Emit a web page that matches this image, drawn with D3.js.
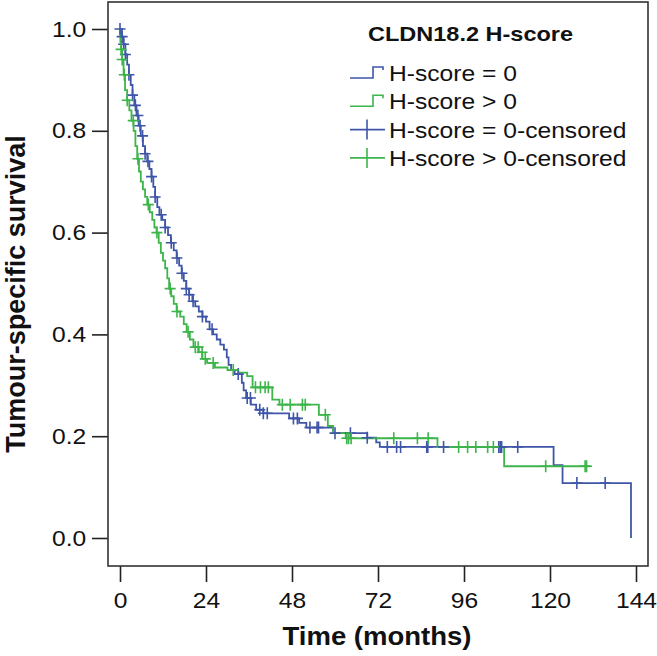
<!DOCTYPE html>
<html>
<head>
<meta charset="utf-8">
<script src="https://cdn.jsdelivr.net/npm/d3@7"></script>
<style>
  body { margin: 0; background: #fff; }
  svg { display: block; font-family: 'Liberation Sans', Arial, sans-serif; }
</style>
</head>
<body>
<figure style="margin:0"></figure>
<script>
/* global d3 */

// Kaplan-Meier steps: [months, survival]
const zeroSteps = [
  [0, 1], [0.5, 0.985], [1, 0.97], [1.5, 0.95], [2, 0.93], [2.5, 0.91], [3, 0.89], [3.5, 0.87],
  [4, 0.85], [4.6, 0.83], [5.2, 0.81], [5.8, 0.79], [6.4, 0.77], [7, 0.755], [7.6, 0.74],
  [8.2, 0.725], [8.8, 0.71], [9.3, 0.69], [9.8, 0.67], [10.4, 0.65], [11, 0.635], [11.8, 0.625],
  [12.6, 0.61], [13.4, 0.595], [14.2, 0.58], [15, 0.565], [15.8, 0.55], [16.5, 0.535],
  [17.2, 0.52], [17.8, 0.505], [18.5, 0.49], [19.3, 0.478], [20.2, 0.465], [21, 0.455],
  [22, 0.445], [23, 0.435], [24, 0.425], [25, 0.41], [26, 0.4], [27, 0.39], [28, 0.38],
  [29, 0.37], [29.8, 0.355], [30.3, 0.34], [31, 0.33], [32, 0.322], [34, 0.305], [34.5, 0.29],
  [35.2, 0.275], [36.5, 0.262], [38, 0.252], [40, 0.245], [47.2, 0.235], [50, 0.226],
  [52, 0.217], [59.5, 0.206], [69, 0.197], [71.5, 0.188], [72.5, 0.179], [121, 0.143],
  [123.5, 0.108], [142.6, 0]
]
const positiveSteps = [
  [0, 1], [0.1, 0.975], [0.3, 0.96], [0.6, 0.94], [1, 0.91], [1.4, 0.88], [2, 0.86], [2.6, 0.84],
  [3.2, 0.82], [3.8, 0.8], [4.3, 0.77], [4.8, 0.745], [5.3, 0.72], [5.8, 0.7], [6.4, 0.685],
  [7, 0.67], [7.6, 0.655], [8.3, 0.64], [9, 0.625], [9.6, 0.61], [10.2, 0.6], [10.8, 0.58],
  [11.4, 0.56], [12, 0.545], [12.6, 0.53], [13.2, 0.51], [13.7, 0.49], [14.3, 0.475], [15, 0.46],
  [15.8, 0.445], [16.8, 0.435], [17.8, 0.42], [18.6, 0.405], [19.5, 0.39], [20.5, 0.375],
  [22, 0.365], [23, 0.352], [24.3, 0.344], [26.5, 0.335], [30, 0.33], [33, 0.325],
  [35.5, 0.318], [37, 0.296], [42.5, 0.272], [44.5, 0.262], [55.5, 0.242], [58, 0.22],
  [59.5, 0.206], [63, 0.196], [88.6, 0.179], [107.2, 0.141], [131.2, 0.141]
]

// censoring times (months)
const zeroCensored = [
  0, 0.6, 1, 1.5, 2.5, 3.5, 4.3, 5, 5.6, 6.3, 7, 7.8, 8.8, 9.8, 11.5, 12.6, 14.3, 15.9, 17.3,
  18.5, 19.3, 20.4, 23, 25.7, 33, 35.5, 36.4, 39, 40, 41.1, 48.4, 49.5, 53, 55, 55.4, 60, 64.3,
  69, 74.6, 77.2, 78.3, 85.6, 85.9, 90.3, 105.7, 106.1, 106.5, 111, 127.5, 135.4
]
const positiveCensored = [
  0.3, 0.6, 1.2, 2, 3.7, 5, 7.9, 10.3, 14, 15.9, 19, 21, 21.8, 22.9, 23.8, 26, 31.6, 37.8,
  39.2, 40.5, 41.4, 45.3, 47.5, 50.9, 51.7, 57.3, 63.3, 63.8, 64.5, 76.4, 83, 86, 94.5, 97,
  99.3, 102.6, 104.2, 118.8, 129.8, 130.2
]

const monthTicks = [0, 24, 48, 72, 96, 120, 144]
const survivalTicks = [0, 0.2, 0.4, 0.6, 0.8, 1.0]
const legendLabels = ['H-score = 0', 'H-score > 0', 'H-score = 0-censored', 'H-score > 0-censored']

const BLUE = '#3f56a8'
const GREEN = '#3db54a'
const WIDTH = 657
const HEIGHT = 656
const STRETCH = 1.12 // the source picture is a little wider than tall

const frame = { left: 108, right: 648, top: 2, bottom: 566 }

const x = d3.scaleLinear().domain([0, 144]).range([120, 636])
const y = d3.scaleLinear().domain([0, 1]).range([538, 29])

const svg = d3.select('figure').append('svg')
  .attr('width', WIDTH)
  .attr('height', HEIGHT)

// axes
const xAxis = svg.append('g')
  .attr('transform', `translate(0,${frame.bottom})`)
  .call(d3.axisBottom(x).tickValues(monthTicks).tickSize(16).tickPadding(10))
const yAxis = svg.append('g')
  .attr('transform', `translate(${frame.left},0)`)
  .call(d3.axisLeft(y).tickValues(survivalTicks).tickFormat(d3.format('.1f')).tickSize(16).tickPadding(3.5))

for (const g of [xAxis, yAxis]) {
  g.select('.domain').remove()
  g.selectAll('line').attr('stroke', '#222').attr('stroke-width', 1.6)
  g.selectAll('text')
    .attr('fill', '#111')
    .attr('font-size', 22)
    .attr('font-family', null)
    .attr('transform', `scale(${STRETCH},1)`)
}

svg.append('rect')
  .attr('x', frame.left)
  .attr('y', frame.top)
  .attr('width', frame.right - frame.left)
  .attr('height', frame.bottom - frame.top)
  .attr('fill', 'none')
  .attr('stroke', '#333')
  .attr('stroke-width', 1.6)

svg.append('text')
  .attr('transform', `translate(${(frame.left + frame.right) / 2 - 1},645) scale(1.1,1)`)
  .attr('text-anchor', 'middle')
  .attr('font-weight', 'bold')
  .attr('font-size', 25)
  .attr('fill', '#111')
  .text('Time (months)')

svg.append('text')
  .attr('transform', 'translate(25,294) rotate(-90)')
  .attr('text-anchor', 'middle')
  .attr('font-weight', 'bold')
  .attr('font-size', 27)
  .attr('fill', '#111')
  .text('Tumour-specific survival')

// curves
const line = d3.line()
  .x(d => x(d[0]))
  .y(d => y(d[1]))
  .curve(d3.curveStepAfter)

const levelAt = (steps, t) => {
  const i = d3.bisectRight(steps.map(d => d[0]), t) - 1
  return steps[Math.max(0, i)][1]
}

const groups = [
  { steps: zeroSteps, censored: zeroCensored, color: BLUE },
  { steps: positiveSteps, censored: positiveCensored, color: GREEN }
]

const plot = svg.append('g')

groups.forEach(g => {
  plot.append('path')
    .datum(g.steps)
    .attr('d', line)
    .attr('fill', 'none')
    .attr('stroke', g.color)
    .attr('stroke-width', 1.8)
})

groups.forEach(g => {
  plot.selectAll(null)
    .data(g.censored)
    .enter().append('path')
    .attr('d', t => {
      const cx = x(t)
      const cy = y(levelAt(g.steps, t))
      return `M${cx - 5.5},${cy}H${cx + 5.5}M${cx},${cy - 6}V${cy + 6}`
    })
    .attr('fill', 'none')
    .attr('stroke', g.color)
    .attr('stroke-width', 1.6)
})

// legend
const legend = svg.append('g')

legend.append('text')
  .attr('transform', `translate(368,41) scale(${STRETCH},1)`)
  .attr('font-weight', 'bold')
  .attr('font-size', 21)
  .attr('fill', '#111')
  .text('CLDN18.2 H-score')

const legendColors = [BLUE, GREEN, BLUE, GREEN]
const rows = legend.selectAll('.row')
  .data(legendLabels)
  .enter().append('g')
  .attr('class', 'row')
  .attr('transform', (d, i) => `translate(0,${73 + i * 28.3})`)

rows.append('path')
  .attr('d', (d, i) => i < 2
    ? 'M350,5H373V-6H383V-3'
    : 'M350,0H385M367,-10V10')
  .attr('fill', 'none')
  .attr('stroke', (d, i) => legendColors[i])
  .attr('stroke-width', 1.6)

rows.append('text')
  .attr('transform', `translate(389,8) scale(${STRETCH},1)`)
  .attr('font-size', 22)
  .attr('fill', '#111')
  .text(d => d)
</script>
</body>
</html>
